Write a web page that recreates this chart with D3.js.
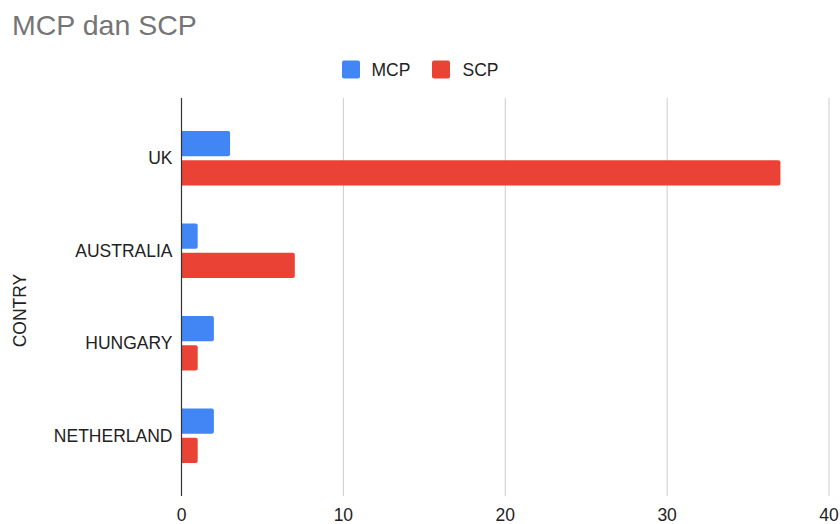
<!DOCTYPE html>
<html>
<head>
<meta charset="utf-8">
<script src="https://cdn.jsdelivr.net/npm/d3@7"></script>
<style>
  body { margin: 0; background: #fff; }
  text { font-family: "Liberation Sans", Arial, sans-serif; }
</style>
</head>
<body>
<svg id="chart" width="840" height="524"></svg>
<script>
const countries = ['UK', 'AUSTRALIA', 'HUNGARY', 'NETHERLAND'];
const seriesNames = ['MCP', 'SCP'];
const mcpValues = [3, 1, 2, 2];
const scpValues = [37, 7, 1, 1];
const xTicks = [0, 10, 20, 30, 40];
const colors = ['#4285f4', '#ea4335'];

const svg = d3.select('#chart');
const plot = { left: 181.5, right: 829, top: 98, bottom: 496 };
const fs = 17.5;

const x = d3.scaleLinear().domain([0, 40]).range([plot.left, plot.right]);
const y0 = d3.scaleBand().domain(countries).range([112, 482])
  .paddingInner(0.41).paddingOuter(0.205);
const y1 = d3.scaleBand().domain(seriesNames).range([0, y0.bandwidth()])
  .paddingInner(0.14);

// title
svg.append('text')
  .attr('x', 12).attr('y', 35)
  .attr('font-size', 28.5).attr('fill', '#757575')
  .text('MCP dan SCP');

// legend
const legend = [
  { name: 'MCP', sx: 342, tx: 371.5 },
  { name: 'SCP', sx: 432, tx: 462.5 }
];
legend.forEach((d, i) => {
  svg.append('rect')
    .attr('x', d.sx).attr('y', 60.5).attr('width', 18).attr('height', 18)
    .attr('rx', 2).attr('fill', colors[i]);
  svg.append('text')
    .attr('x', d.tx).attr('y', 76)
    .attr('font-size', fs).attr('fill', '#222')
    .text(d.name);
});

// gridlines
svg.append('g')
  .selectAll('line')
  .data(xTicks.filter(t => t > 0))
  .join('line')
  .attr('x1', d => x(d)).attr('x2', d => x(d))
  .attr('y1', plot.top).attr('y2', plot.bottom)
  .attr('stroke', '#cccccc').attr('stroke-width', 1);

// x tick labels
svg.append('g')
  .selectAll('text')
  .data(xTicks)
  .join('text')
  .attr('x', d => x(d)).attr('y', 520.5)
  .attr('text-anchor', 'middle')
  .attr('font-size', fs).attr('fill', '#222')
  .text(d => d);

// bars
const rows = countries.map((c, i) => ({ country: c, values: [mcpValues[i], scpValues[i]] }));
const groups = svg.append('g')
  .selectAll('g')
  .data(rows)
  .join('g')
  .attr('transform', d => `translate(0,${y0(d.country)})`);

groups.selectAll('path')
  .data(d => d.values.map((v, i) => ({ series: seriesNames[i], value: v, i })))
  .join('path')
  .attr('fill', d => colors[d.i])
  .attr('d', d => {
    const x0 = x(0), x1 = x(d.value);
    const yt = y1(d.series), h = y1.bandwidth(), r = 2;
    return `M${x0},${yt} H${x1 - r} Q${x1},${yt} ${x1},${yt + r} V${yt + h - r} Q${x1},${yt + h} ${x1 - r},${yt + h} H${x0} Z`;
  });

// category labels
svg.append('g')
  .selectAll('text')
  .data(countries)
  .join('text')
  .attr('x', 172.5)
  .attr('y', d => y0(d) + y0.bandwidth() / 2)
  .attr('dy', '0.35em')
  .attr('text-anchor', 'end')
  .attr('font-size', fs).attr('fill', '#222')
  .text(d => d);

// baseline axis
svg.append('line')
  .attr('x1', x(0)).attr('x2', x(0))
  .attr('y1', plot.top).attr('y2', plot.bottom)
  .attr('stroke', '#333').attr('stroke-width', 1.2);

// axis title
svg.append('text')
  .attr('transform', 'translate(26,310.5) rotate(-90)')
  .attr('text-anchor', 'middle')
  .attr('font-size', fs).attr('fill', '#222')
  .text('CONTRY');
</script>
</body>
</html>
